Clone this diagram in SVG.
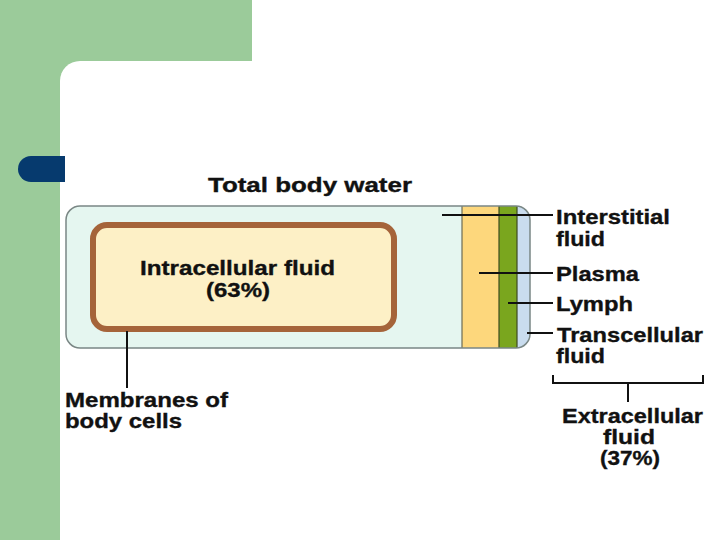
<svg xmlns="http://www.w3.org/2000/svg" width="720" height="540" viewBox="0 0 720 540">
<style>
.t{font-family:"Liberation Sans",Arial,sans-serif;font-weight:bold;font-size:20.5px;fill:#111;stroke:#111;stroke-width:0.35}
.ld{stroke:#111;stroke-width:2;fill:none}
</style>
<defs>
<clipPath id="boxclip"><rect x="66" y="206" width="464" height="142" rx="14"/></clipPath>
</defs>
<rect width="720" height="540" fill="#ffffff"/>
<g id="background">
<rect x="0" y="0" width="252" height="90" fill="#9bcb9a"/>
<rect x="0" y="0" width="60" height="540" fill="#9bcb9a"/>
<rect x="60" y="61" width="700" height="520" rx="20" fill="#ffffff"/>
<path d="M65,156 H31 A13,13 0 0 0 31,182 H65 Z" fill="#063a6e"/>
</g>
<g id="total-body-water">
<text class="t" x="208" y="192" textLength="204" lengthAdjust="spacingAndGlyphs">Total body water</text>
<rect x="66" y="206" width="464" height="142" rx="14" fill="#e5f6f0"/>
<g clip-path="url(#boxclip)">
<rect x="462" y="200" width="37" height="160" fill="#fdd77c"/>
<rect x="499" y="200" width="18" height="160" fill="#7aa61e"/>
<rect x="517" y="200" width="20" height="160" fill="#c9dcee"/>
<line x1="462" y1="200" x2="462" y2="360" stroke="#6b6b55" stroke-width="1.2"/>
<line x1="499" y1="200" x2="499" y2="360" stroke="#3d4a20" stroke-width="1.2"/>
<line x1="517" y1="200" x2="517" y2="360" stroke="#3d4a20" stroke-width="1.2"/>
</g>
<rect x="66" y="206" width="464" height="142" rx="14" fill="none" stroke="#7a8785" stroke-width="1.5"/>
</g>
<g id="intracellular">
<rect x="93" y="225" width="301" height="104" rx="14" fill="#fdf0c6" stroke="#a5643a" stroke-width="6"/>
<text class="t" x="140" y="275" textLength="195" lengthAdjust="spacingAndGlyphs">Intracellular fluid</text>
<text class="t" x="206" y="297" textLength="64" lengthAdjust="spacingAndGlyphs">(63%)</text>
</g>
<g id="connectors">
<line class="ld" x1="442" y1="215" x2="553" y2="215"/>
<line class="ld" x1="479" y1="273" x2="553" y2="273"/>
<line class="ld" x1="508" y1="303" x2="553" y2="303"/>
<line class="ld" x1="527" y1="333" x2="553" y2="333"/>
<line class="ld" x1="127" y1="331" x2="127" y2="388"/>
<path class="ld" d="M553,375 V383 H703 V375 M628,383 V402"/>
</g>
<g id="label-interstitial">
<text class="t" x="556" y="224" textLength="114" lengthAdjust="spacingAndGlyphs">Interstitial</text>
<text class="t" x="556" y="246" textLength="49" lengthAdjust="spacingAndGlyphs">fluid</text>
</g>
<g id="label-plasma">
<text class="t" x="556" y="281" textLength="83" lengthAdjust="spacingAndGlyphs">Plasma</text>
</g>
<g id="label-lymph">
<text class="t" x="556" y="311" textLength="77" lengthAdjust="spacingAndGlyphs">Lymph</text>
</g>
<g id="label-transcellular">
<text class="t" x="557" y="342" textLength="146" lengthAdjust="spacingAndGlyphs">Transcellular</text>
<text class="t" x="556" y="363" textLength="49" lengthAdjust="spacingAndGlyphs">fluid</text>
</g>
<g id="label-membranes">
<text class="t" x="65" y="407" textLength="163" lengthAdjust="spacingAndGlyphs">Membranes of</text>
<text class="t" x="65" y="428" textLength="117" lengthAdjust="spacingAndGlyphs">body cells</text>
</g>
<g id="label-extracellular">
<text class="t" x="562" y="423" textLength="141" lengthAdjust="spacingAndGlyphs">Extracellular</text>
<text class="t" x="603" y="444" textLength="52" lengthAdjust="spacingAndGlyphs">fluid</text>
<text class="t" x="600" y="465" textLength="60" lengthAdjust="spacingAndGlyphs">(37%)</text>
</g>
</svg>
